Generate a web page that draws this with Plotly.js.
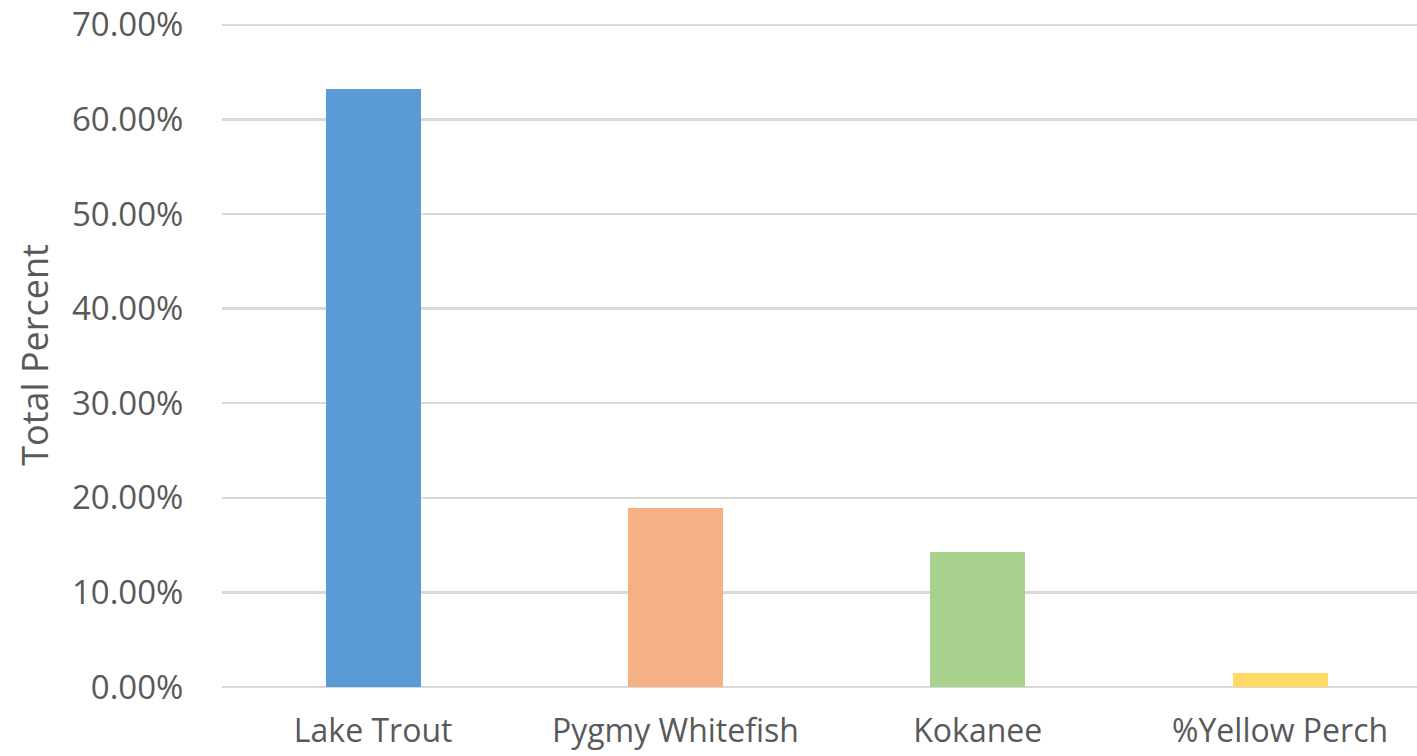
<!DOCTYPE html>
<html>
<head>
<meta charset="utf-8">
<script src="https://cdn.plot.ly/plotly-3.0.1.min.js"></script>
<style>
html,body{margin:0;padding:0;background:#fff;overflow:hidden;}
#chart{width:1417px;height:756px;}
</style>
</head>
<body>
<div id="chart"></div>
<script>
const categories = ["Lake Trout", "Pygmy Whitefish", "Kokanee", "%Yellow Perch"];
const totalPercent = [0.6325, 0.189, 0.1425, 0.015];
const barColors = ["#5B9BD5", "#F4B183", "#A9D18E", "#FFD966"];
const yTickVals = [0, 0.1, 0.2, 0.3, 0.4, 0.5, 0.6, 0.7];
const yTickText = ["0.00%", "10.00%", "20.00%", "30.00%", "40.00%", "50.00%", "60.00%", "70.00%"];

const trace = {
  type: "bar",
  x: categories,
  y: totalPercent,
  marker: {color: barColors, line: {width: 0}},
  width: 0.314,
  hoverinfo: "x+y"
};

const fontFam = "'Open Sans', 'Noto Sans', sans-serif";
const layout = {
  width: 1417,
  height: 756,
  margin: {l: 221.5, r: 0, t: 23, b: 69.3, pad: 0},
  paper_bgcolor: "#ffffff",
  plot_bgcolor: "#ffffff",
  showlegend: false,
  bargap: 0,
  font: {family: fontFam, color: "#595959", size: 33},
  xaxis: {
    type: "category",
    range: [-0.5, 3.453],
    showgrid: false,
    zeroline: false,
    showline: false,
    ticks: "outside",
    ticklen: 16,
    tickcolor: "rgba(0,0,0,0)",
    tickfont: {family: fontFam, size: 32, color: "#595959"},
    fixedrange: true
  },
  yaxis: {
    range: [0, 0.702],
    tickvals: yTickVals,
    ticktext: yTickText,
    showgrid: true,
    gridcolor: "#d9d9d9",
    gridwidth: 2.5,
    zeroline: true,
    zerolinecolor: "#d9d9d9",
    zerolinewidth: 2.5,
    showline: false,
    ticks: "outside",
    ticklen: 31,
    tickcolor: "rgba(0,0,0,0)",
    tickfont: {family: fontFam, size: 33, color: "#595959"},
    title: {text: "Total Percent", font: {family: fontFam, size: 36, color: "#595959"}, standoff: 12},
    automargin: false,
    fixedrange: true
  }
};

Plotly.newPlot("chart", [trace], layout, {displayModeBar: false, staticPlot: true});
</script>
</body>
</html>
